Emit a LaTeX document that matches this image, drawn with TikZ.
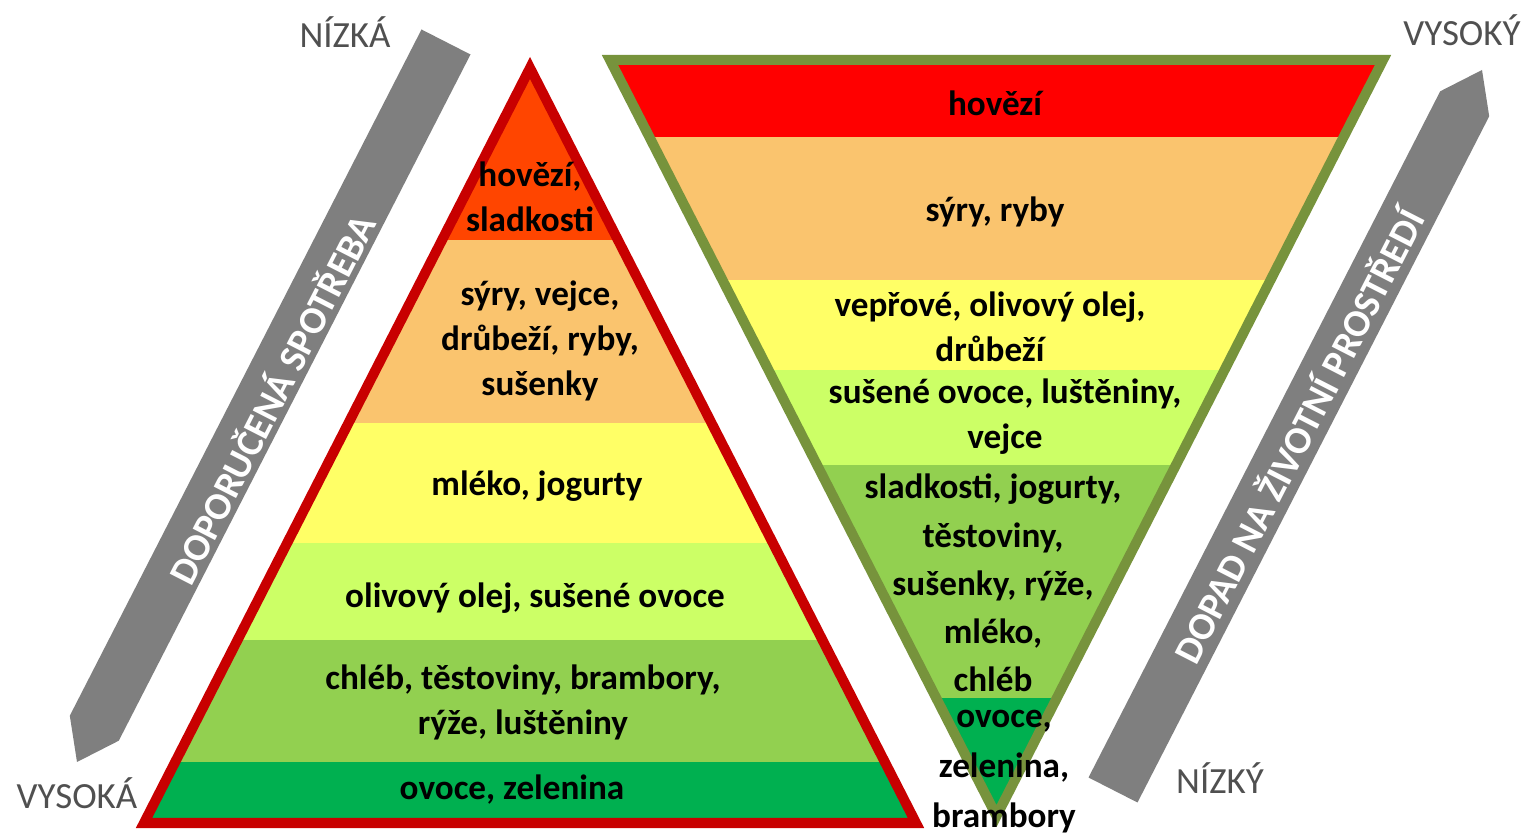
\documentclass[tikz,border=0pt]{standalone}
\usepackage{fontspec}
\setmainfont{Carlito}

\definecolor{beefred}{RGB}{255,69,0}
\definecolor{topred}{RGB}{255,0,0}
\definecolor{cheeseorange}{RGB}{250,196,110}
\definecolor{milkyellow}{RGB}{255,255,102}
\definecolor{oilgreen}{RGB}{204,255,102}
\definecolor{breadgreen}{RGB}{146,208,80}
\definecolor{fruitgreen}{RGB}{0,176,80}
\definecolor{pyrred}{RGB}{200,0,0}
\definecolor{pyrolive}{RGB}{119,147,60}
\definecolor{arrowgray}{RGB}{127,127,127}
\definecolor{labelgray}{RGB}{80,80,80}

\begin{document}
\begin{tikzpicture}[x=0.01cm, y=-0.01cm,
    food/.style={font={\bfseries\fontsize{10}{12.8}\selectfont}, align=center, inner sep=0pt},
    axislabel/.style={font={\fontsize{10.5}{12}\selectfont}, text=labelgray, inner sep=0pt},
    arrowtext/.style={font={\bfseries\fontsize{11}{13}\selectfont}, text=white, inner sep=0pt, rotate=62.9},
    frame/.style={line width=1mm, line join=miter}]

    \useasboundingbox (0,0) rectangle (1527,834);

    % recommended consumption
    \begin{scope}
        \clip (530,68) -- (916,823) -- (144,823) -- cycle;
        \fill[beefred] (100,0) rectangle (950,240);
        \fill[cheeseorange] (100,240) rectangle (950,423);
        \fill[milkyellow] (100,423) rectangle (950,543);
        \fill[oilgreen] (100,543) rectangle (950,640);
        \fill[breadgreen] (100,640) rectangle (950,762);
        \fill[fruitgreen] (100,762) rectangle (950,834);
    \end{scope}
    \draw[frame, pyrred] (530,68) -- (916,823) -- (144,823) -- cycle;

    % environmental impact
    \begin{scope}
        \clip (610,60) -- (1383,60) -- (996.5,816) -- cycle;
        \fill[topred] (600,0) rectangle (1400,137);
        \fill[cheeseorange] (600,137) rectangle (1400,280);
        \fill[milkyellow] (600,280) rectangle (1400,370);
        \fill[oilgreen] (600,370) rectangle (1400,465);
        \fill[breadgreen] (600,465) rectangle (1400,698);
        \fill[fruitgreen] (600,698) rectangle (1400,834);
    \end{scope}
    \draw[frame, pyrolive] (610,60) -- (1383,60) -- (996.5,816) -- cycle;

    % arrows
    \fill[arrowgray] (421.5,29.5) -- (470.5,54.5) -- (118.8,740.7) -- (77,762) -- (69.8,715.7) -- cycle;
    \fill[arrowgray] (1088.5,777.5) -- (1440.2,91.3) -- (1482,70) -- (1489.2,116.3) -- (1137.5,802.5) -- cycle;

    \node[arrowtext] (consumption) at (270,398) {DOPORUČENÁ SPOTŘEBA};
    \node[arrowtext] (impact) at (1297,435) {DOPAD NA ŽIVOTNÍ PROSTŘEDÍ};

    \node[axislabel] (lowcons) at (345,32) {NÍZKÁ};
    \node[axislabel] (highcons) at (77,793) {VYSOKÁ};
    \node[axislabel] (highimp) at (1462,30) {VYSOKÝ};
    \node[axislabel] (lowimp) at (1220,778) {NÍZKÝ};

    % left texts
    \node[food] (lbeef) at (530,197) {hovězí,\\sladkosti};
    \node[food] (lcheese) at (540,341) {sýry, vejce,\\drůbeží, ryby,\\sušenky};
    \node[food] (lmilk) at (537,486) {mléko, jogurty};
    \node[food] (loil) at (535,598) {olivový olej, sušené ovoce};
    \node[food] (lbread) at (523,702) {chléb, těstoviny, brambory,\\rýže, luštěniny};
    \node[food] (lfruit) at (512,790) {ovoce, zelenina};

    % right texts
    \node[food] (rbeef) at (995,103) {hovězí};
    \node[food] (rcheese) at (995,212) {sýry, ryby};
    \node[food] (rpork) at (990,327) {vepřové, olivový olej,\\drůbeží};
    \node[food] (rdried) at (1005,417) {sušené ovoce, luštěniny,\\vejce};
    \node[food, font={\bfseries\fontsize{10}{13.7}\selectfont}] (rsweets) at (993,583) {sladkosti, jogurty,\\těstoviny,\\sušenky, rýže,\\mléko,\\chléb};
    \node[food, font={\bfseries\fontsize{10}{14.2}\selectfont}] (rfruit) at (1004,772) {ovoce,\\zelenina,\\brambory};

\end{tikzpicture}
\end{document}
